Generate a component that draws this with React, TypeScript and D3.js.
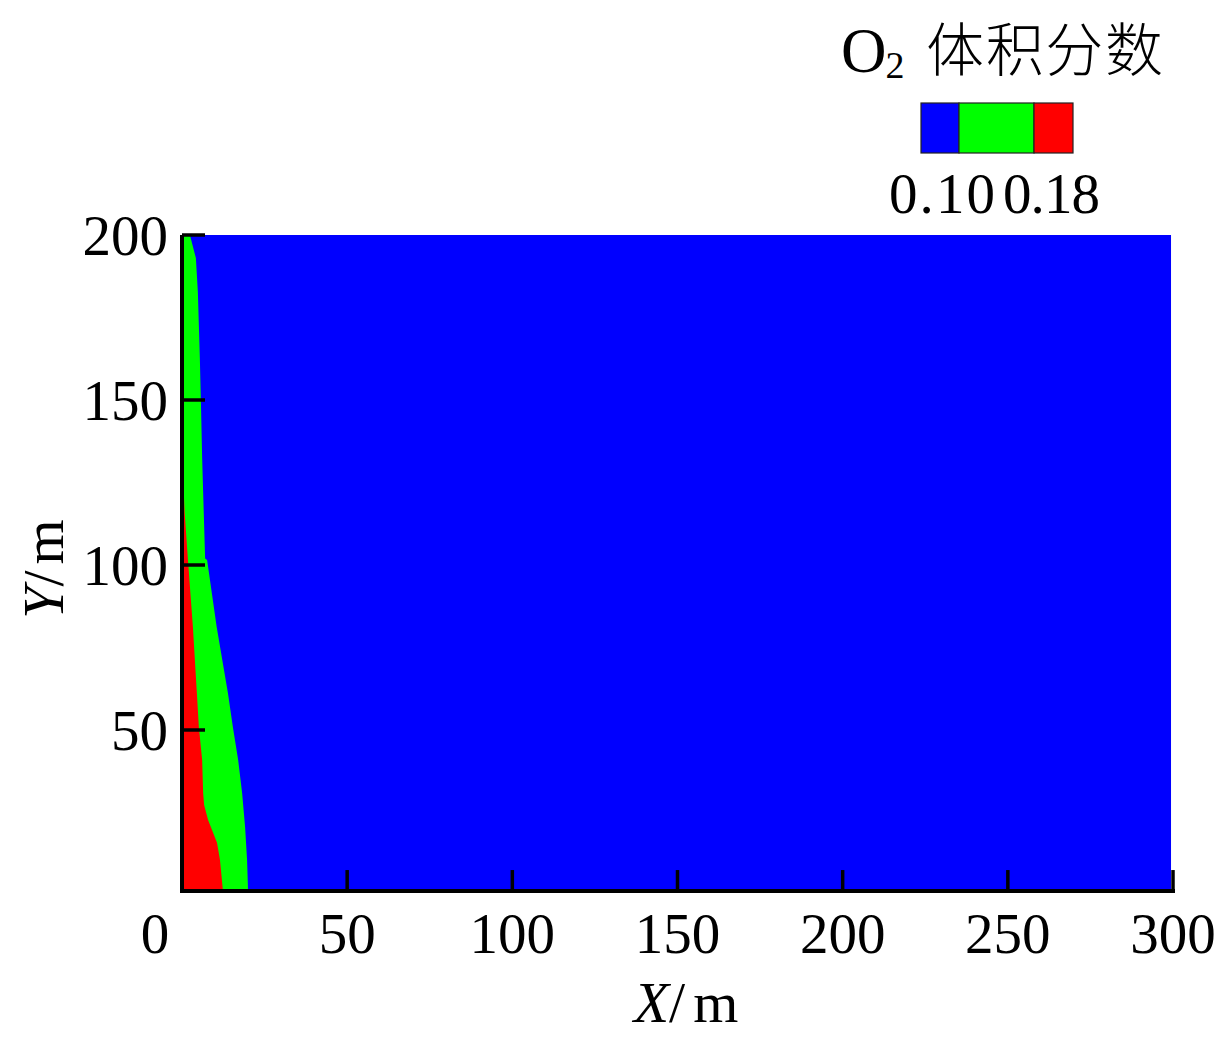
import React from "react";
import * as d3 from "d3";

// Boundary levels (Y, m) and the X (m) where each colour zone ends
const yLevels = [200, 193, 182.7, 172.7, 162.7, 150.6, 132.4, 122.1, 102, 101.5, 81.2, 61.2, 50.9, 40.9, 30.9, 20.6, 10.6, 1.2];
const greenEdge = [2.4, 4.2, 4.8, 5.1, 5.4, 5.7, 6.1, 6.4, 7.0, 7.6, 10.5, 13.9, 15.4, 17.0, 18.2, 19.1, 19.7, 20.0];

const redLevels = [140, 130, 116, 101.5, 81.2, 61.2, 50.9, 40.9, 30.9, 27.3, 22.7, 15.8, 10.6, 1.2];
const redEdge = [0.0, 0.2, 0.8, 1.8, 3.3, 4.5, 5.1, 6.1, 6.4, 6.7, 7.9, 10.6, 11.5, 12.4];

const xTicks = [0, 50, 100, 150, 200, 250, 300];
const yTicks = [50, 100, 150, 200];
const legendColors = ["#0000ff", "#00ff00", "#ff0000"];
const legendLabels = ["0.10", "0.18"];

const X_MAX_DATA = 299.4;
const Y_MIN = 1.2;

export default function App() {
  const W = 1226, H = 1043;
  const x = d3.scaleLinear().domain([0, 300]).range([182, 1173]);
  const y = d3.scaleLinear().domain([0, 200]).range([895, 235]);

  const greenData = yLevels.map((v, i) => ({ y: v, x: greenEdge[i] }));
  const redData = redLevels.map((v, i) => ({ y: v, x: redEdge[i] }));

  const area = d3
    .area<{ y: number; x: number }>()
    .y((d) => y(d.y))
    .x0(() => x(0))
    .x1((d) => x(d.x));

  const serif = '"Liberation Serif", "Times New Roman", serif';
  const cjk = '"Noto Sans CJK SC", "Liberation Serif", serif';
  const fs = 57;
  const axisY = y(Y_MIN);

  return (
    <svg
      width={W}
      height={H}
      style={{ position: "absolute", left: 0, top: 0, background: "#fff" }}
    >
      {/* field */}
      <rect
        x={x(0)}
        y={y(200)}
        width={x(X_MAX_DATA) - x(0)}
        height={y(Y_MIN) - y(200)}
        fill="#0000ff"
      />
      <path d={area(greenData) || ""} fill="#00ff00" />
      <path d={area(redData) || ""} fill="#ff0000" />

      {/* axes */}
      <line x1={x(0)} x2={x(0)} y1={y(200)} y2={axisY + 2} stroke="#000" strokeWidth={4} />
      <line x1={x(0) - 2} x2={x(300) + 2} y1={axisY} y2={axisY} stroke="#000" strokeWidth={4} />
      {xTicks.filter((t) => t > 0).map((t) => (
        <line key={"xt" + t} x1={x(t)} x2={x(t)} y1={axisY} y2={axisY - 21} stroke="#000" strokeWidth={3.5} />
      ))}
      {yTicks.map((t) => (
        <line key={"yt" + t} x1={x(0)} x2={x(0) + 23} y1={y(t)} y2={y(t)} stroke="#000" strokeWidth={3.5} />
      ))}

      {xTicks.map((t) => (
        <text
          key={"xl" + t}
          x={t === 0 ? x(t) - 27 : x(t)}
          y={953}
          textAnchor="middle"
          fontFamily={serif}
          fontSize={fs}
          fill="#000"
        >
          {t}
        </text>
      ))}
      {yTicks.map((t) => (
        <text
          key={"yl" + t}
          x={168}
          y={y(t) + 20}
          textAnchor="end"
          fontFamily={serif}
          fontSize={fs}
          fill="#000"
        >
          {t}
        </text>
      ))}

      {/* axis titles */}
      <text x={686} y={1022} textAnchor="middle" fontFamily={serif} fontSize={58} fill="#000">
        <tspan fontStyle="italic">X</tspan>
        <tspan>/</tspan>
        <tspan dx={8}>m</tspan>
      </text>
      <text
        transform="translate(63,569) rotate(-90)"
        textAnchor="middle"
        fontFamily={serif}
        fontSize={58}
        fill="#000"
      >
        <tspan fontStyle="italic">Y</tspan>
        <tspan>/</tspan>
        <tspan dx={6}>m</tspan>
      </text>

      {/* legend */}
      <text x={841} y={72} fontFamily={serif} fontSize={63} fill="#000">
        O<tspan fontSize={38} dy={6} dx={-1}>2</tspan>
      </text>
      <text x={926} y={71} fontFamily={cjk} fontSize={58} fontWeight={300} textLength={237} fill="#000">体积分数</text>

      {legendColors.map((c, i) => {
        const xs = [921, 959, 1034, 1073];
        return (
          <rect key={"lg" + i} x={xs[i]} y={103} width={xs[i + 1] - xs[i]} height={50} fill={c} stroke="#222" strokeWidth={1.2} />
        );
      })}
      <text x={889} y={213} fontFamily={serif} fontSize={fs} textLength={106} fill="#000">{legendLabels[0]}</text>
      <text x={1003} y={213} fontFamily={serif} fontSize={fs} textLength={97} fill="#000">{legendLabels[1]}</text>
    </svg>
  );
}
